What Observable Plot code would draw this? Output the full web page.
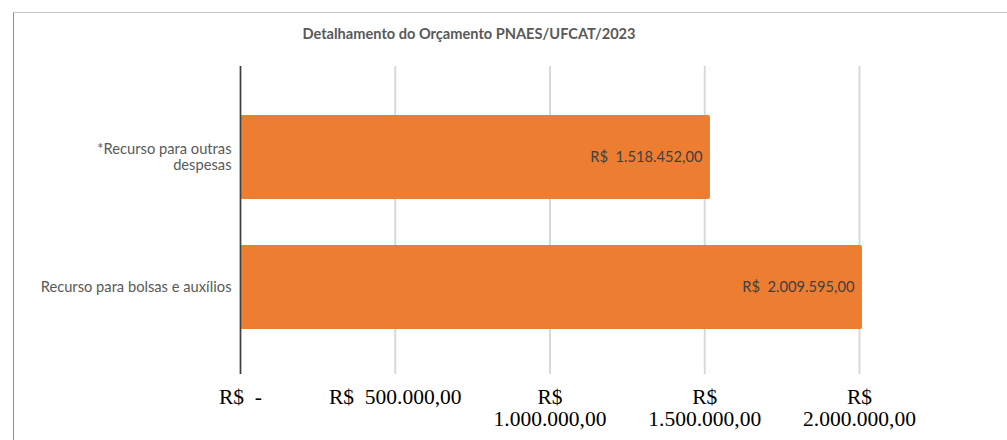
<!DOCTYPE html>
<html><head><meta charset="utf-8">
<script src="https://cdn.jsdelivr.net/npm/d3@7"></script>
<script src="https://cdn.jsdelivr.net/npm/@observablehq/plot@0.6"></script>
<style>
body{margin:0;background:#fff;}
#wrap{position:relative;width:1007px;height:440px;overflow:hidden;background:#fff;}
#frame{position:absolute;left:13px;top:12px;right:-5px;bottom:-5px;border-left:1px solid #8c8c8c;border-top:1px solid #c8c8c8;}
#title{position:absolute;left:219px;width:500px;top:25px;text-align:center;font-family:Lato,sans-serif;font-weight:bold;font-size:14.6px;color:#595959;}
#chart{position:absolute;left:0;top:0;}
</style></head>
<body><div id="wrap"><div id="frame"></div><div id="chart"></div><div id="title"></div></div>
<script>
const title = "Detalhamento do Orçamento PNAES/UFCAT/2023";
const categories = ["*Recurso para outras despesas", "Recurso para bolsas e auxílios"];
const yTickLabels = ["*Recurso para outras\ndespesas", "Recurso para bolsas e auxílios"];
const values = [1518452, 2009595];
const valueLabels = ["R$\u00a0\u00a01.518.452,00", "R$\u00a0\u00a02.009.595,00"];
const xTicks = [0, 500000, 1000000, 1500000, 2000000];
const xTickLabels = ["R$\u00a0\u00a0-", "R$\u00a0\u00a0500.000,00", "R$\n1.000.000,00", "R$\n1.500.000,00", "R$\n2.000.000,00"];

document.getElementById("title").textContent = title;
const data = categories.map((c, i) => ({cat: c, value: values[i], label: valueLabels[i]}));

const chart = Plot.plot({
  width: 1007,
  height: 440,
  marginLeft: 240,
  marginRight: 148,
  marginTop: 66,
  marginBottom: 66,
  style: {background: "transparent", fontFamily: "Lato, sans-serif"},
  x: {domain: [0, 2000000]},
  y: {domain: categories, paddingInner: 0.357, paddingOuter: 0.36, align: 0.52},
  marks: [
    Plot.gridX(xTicks, {stroke: "#d9d9d9", strokeWidth: 2, strokeOpacity: 1}),
    Plot.barX(data, {x: "value", y: "cat", fill: "#ED7D31", rx: 2}),
    Plot.ruleX([0], {stroke: "#404040", strokeWidth: 1.6}),
    Plot.text(data, {x: "value", y: "cat", text: "label", textAnchor: "end", dx: -8, fill: "#404040", fontSize: 14.7, fontFamily: "Lato, sans-serif"}),
    Plot.axisY({tickSize: 0, tickPadding: 9, dy: -1, tickFormat: d => yTickLabels[categories.indexOf(d)], fontSize: 14.7, fill: "#595959", lineHeight: 1.09, fontFamily: "Lato, sans-serif", label: null}),
    Plot.axisX(xTicks, {tickSize: 0, tickPadding: 14, tickFormat: d => xTickLabels[xTicks.indexOf(d)], fontSize: 21.5, fill: "#000", lineHeight: 1.02, fontFamily: "Liberation Serif, Times New Roman, serif", label: null})
  ]
});
document.getElementById("chart").appendChild(chart);
</script>
</body></html>
